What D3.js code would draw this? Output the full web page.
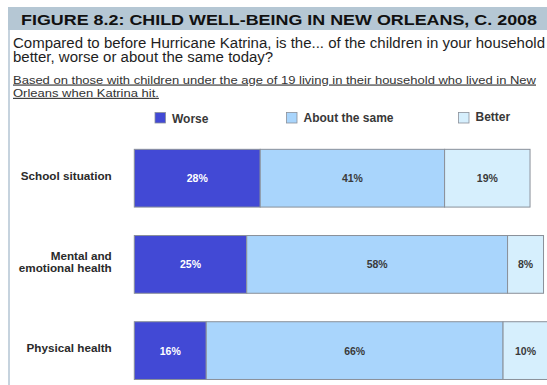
<!DOCTYPE html>
<html>
<head>
<meta charset="utf-8">
<script src="https://cdn.jsdelivr.net/npm/d3@7"></script>
<style>
  html, body { margin: 0; padding: 0; background: #fff; }
  svg { display: block; font-family: "Liberation Sans", Arial, sans-serif; }
</style>
</head>
<body>
<svg id="chart" width="547" height="385"></svg>
<script>
// Survey data: share of households reporting each outcome
const categories = ["School situation", "Mental and\nemotional health", "Physical health"];
const seriesNames = ["Worse", "About the same", "Better"];
const worse = [28, 25, 16];
const same = [41, 58, 66];
const better = [19, 8, 10];

const titleText = "FIGURE 8.2: CHILD WELL-BEING IN NEW ORLEANS, C. 2008";
const questionLines = [
  "Compared to before Hurricane Katrina, is the... of the children in your household",
  "better, worse or about the same today?"
];
const noteLines = [
  "Based on those with children under the age of 19 living in their household who lived in New",
  "Orleans when Katrina hit."
];

const colors = ["#4249d5", "#a9d5fc", "#d6effd"];
const labelColors = ["#ffffff", "#3a3a3a", "#3a3a3a"];

const svg = d3.select("#chart");
const W = 547, H = 385;

// Stretch a block of text lines so its first line spans the given width
function fitWidth(sel, firstLineWidth) {
  const nodes = sel.nodes();
  const k = firstLineWidth / nodes[0].getComputedTextLength();
  nodes.forEach(n => {
    n.setAttribute("textLength", n.getComputedTextLength() * k);
    n.setAttribute("lengthAdjust", "spacingAndGlyphs");
  });
}

// Frame: title band and left rule
svg.append("rect").attr("x", 8).attr("y", 7).attr("width", W - 8).attr("height", 23)
  .attr("fill", "#b5c7d4");
svg.append("rect").attr("x", 8).attr("y", 30).attr("width", 2).attr("height", H - 30)
  .attr("fill", "#c6d3de");

const title = svg.append("text").attr("x", 21).attr("y", 24.5)
  .attr("font-size", 15.5).attr("font-weight", "bold").attr("fill", "#111")
  .text(titleText);
fitWidth(title, 516);

const question = svg.selectAll("text.q").data(questionLines).join("text")
  .attr("class", "q")
  .attr("x", 13).attr("y", (d, i) => 47.5 + i * 14.5)
  .attr("font-size", 14).attr("fill", "#1e1e1e")
  .text(d => d);
fitWidth(question, 532);

const note = svg.selectAll("text.note").data(noteLines).join("text")
  .attr("class", "note")
  .attr("x", 13).attr("y", (d, i) => 83.5 + i * 13.3)
  .attr("font-size", 11.3).attr("fill", "#333")
  .attr("text-decoration", "underline")
  .text(d => d);
fitWidth(note, 523);

// Legend
const legendX = [155, 286.5, 458.5];
const legendTextY = [122.5, 122, 120.5];
const legend = svg.selectAll("g.leg").data(seriesNames).join("g").attr("class", "leg");
legend.append("rect")
  .attr("x", (d, i) => legendX[i]).attr("y", 112.5)
  .attr("width", 10.5).attr("height", 10.5)
  .attr("fill", (d, i) => colors[i]).attr("stroke", "#8a9099").attr("stroke-width", 0.8);
legend.append("text")
  .attr("x", (d, i) => legendX[i] + 17).attr("y", (d, i) => legendTextY[i])
  .attr("font-size", 12).attr("font-weight", "bold").attr("fill", "#383838")
  .text(d => d);

// Scales
const x = d3.scaleLinear().domain([0, 100]).range([134.3, 584]);
const y = d3.scaleBand().domain(categories).range([135.1, 393.7])
  .paddingInner(0.33).paddingOuter(0.165);

// Stacked rows
const rows = categories.map((c, i) => ({ cat: c, vals: [worse[i], same[i], better[i]] }));
const segs = [];
rows.forEach(r => {
  let acc = 0;
  r.vals.forEach((v, k) => {
    segs.push({ cat: r.cat, k, v, x0: acc, x1: acc + v });
    acc += v;
  });
});

const g = svg.append("g");
g.selectAll("rect.seg").data(segs).join("rect")
  .attr("class", "seg")
  .attr("x", d => x(d.x0)).attr("width", d => x(d.x1) - x(d.x0))
  .attr("y", d => y(d.cat)).attr("height", y.bandwidth())
  .attr("fill", d => colors[d.k])
  .attr("stroke", "#8a9099").attr("stroke-width", 1);

g.selectAll("text.val").data(segs).join("text")
  .attr("class", "val")
  .attr("x", d => (x(d.x0) + x(d.x1)) / 2)
  .attr("y", d => y(d.cat) + y.bandwidth() / 2 + 4)
  .attr("text-anchor", "middle")
  .attr("font-size", 10.5).attr("font-weight", "bold")
  .attr("fill", d => labelColors[d.k])
  .text(d => d.v + "%");

// Category labels, right aligned
const catLabels = svg.selectAll("text.cat").data(categories).join("text")
  .attr("class", "cat")
  .attr("text-anchor", "end")
  .attr("font-size", 11.7).attr("font-weight", "bold").attr("fill", "#2a2a2a");
catLabels.each(function (d) {
  const lines = d.split("\n");
  const cy = y(d) + y.bandwidth() / 2 - 2.5;
  d3.select(this).selectAll("tspan").data(lines).join("tspan")
    .attr("x", 111.7)
    .attr("y", (l, j) => cy + 4 + (j - (lines.length - 1) / 2) * 12.5)
    .text(l => l);
});
</script>
</body>
</html>
